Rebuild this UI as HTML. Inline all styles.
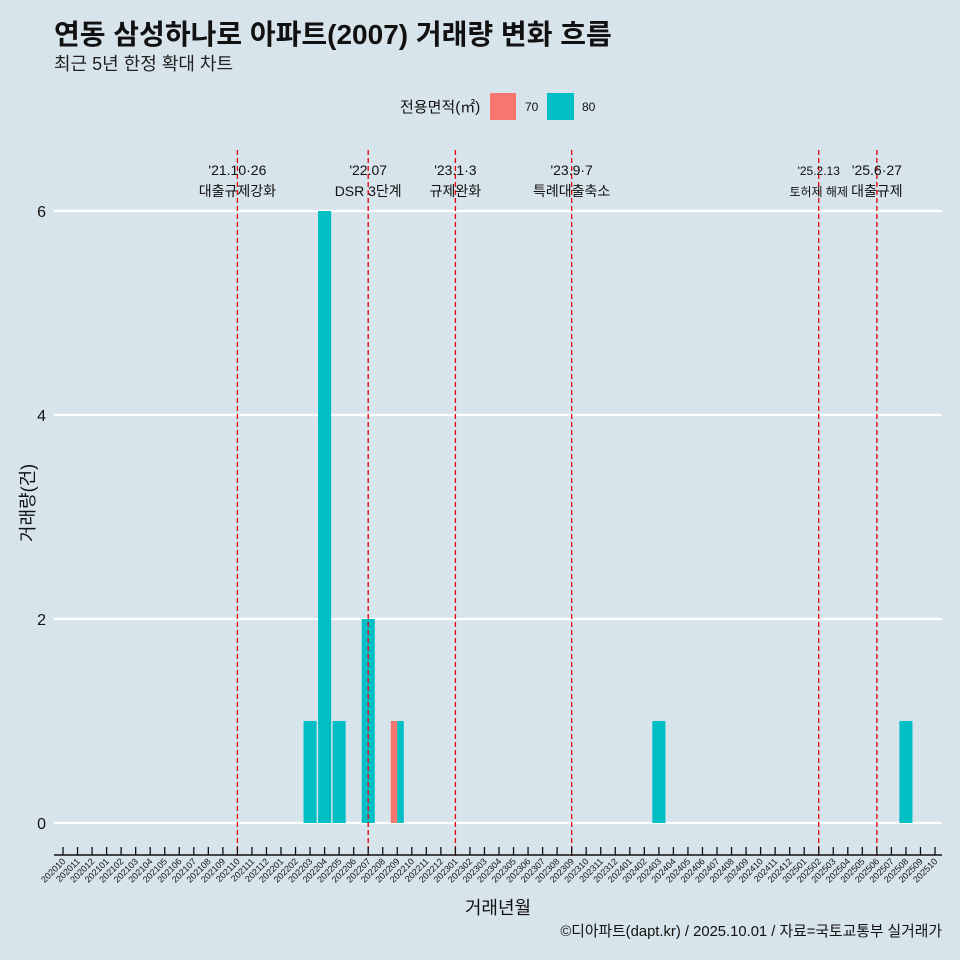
<!DOCTYPE html>
<html><head><meta charset="utf-8"><style>
body{margin:0;background:#d7e4eb;}
svg{display:block;font-family:"Liberation Sans","Noto Sans CJK KR",sans-serif;}
</style></head><body>
<svg id="c" width="960" height="960">
<rect width="960" height="960" fill="#d7e4eb"/>
<text x="54" y="44" font-size="28" font-weight="bold" fill="#111">연동 삼성하나로 아파트(2007) 거래량 변화 흐름</text>
<text x="54" y="70" font-size="18" fill="#222">최근 5년 한정 확대 차트</text>
<g>
<text x="400" y="112" font-size="15" fill="#111">전용면적(㎡)</text>
<rect x="490" y="93" width="26" height="27" fill="#f8766d"/>
<text x="525" y="111" font-size="12" fill="#111">70</text>
<rect x="547" y="93" width="27" height="27" fill="#00bfc4"/>
<text x="582" y="111" font-size="12" fill="#111">80</text>
</g>
<g id="grid"></g><g id="bars"></g><g id="events"></g><g id="axes"></g>
<text x="498" y="914" font-size="18" text-anchor="middle" fill="#111">거래년월</text>
<text transform="translate(34,503) rotate(-90)" font-size="18" text-anchor="middle" fill="#111">거래량(건)</text>
<text x="942" y="936" font-size="14.8" text-anchor="end" fill="#111">©디아파트(dapt.kr) / 2025.10.01 / 자료=국토교통부 실거래가</text>
</svg>
<script>
const months=[];for(let y=2020;y<=2025;y++)for(let m=1;m<=12;m++){const k=y*100+m;if(k>=202010&&k<=202510)months.push(String(k));}
const seriesNames=["70","80"];
const barMonths=["202203","202204","202205","202207","202209","202209","202403","202508"];
const barSeries=["80","80","80","80","70","80","80","80"];
const barValues=[1,6,1,2,1,1,1,1];
const yTicks=[0,2,4,6];
const eventMonths=["202110","202207","202301","202309","202502","202506"];
const eventDates=["'21.10·26","'22.07","'23.1·3","'23.9·7","'25.2.13","'25.6·27"];
const eventLabels=["대출규제강화","DSR 3단계","규제완화","특례대출축소","토허제 해제","대출규제"];
const colors={"70":"#f8766d","80":"#00bfc4"};
const NS="http://www.w3.org/2000/svg";
const x0=63,step=(935-63)/60,y0=823,yk=102;
const X=m=>x0+months.indexOf(m)*step;
const Y=v=>y0-v*yk;
function el(t,a,p){const e=document.createElementNS(NS,t);for(const k in a)e.setAttribute(k,a[k]);document.getElementById(p).appendChild(e);return e;}
yTicks.forEach(v=>{
 const l=el("line",{x1:54,x2:942,y1:Y(v),y2:Y(v),stroke:"#fff","stroke-width":2.2},"grid");
 
 
 const t=el("text",{x:46,y:Y(v)+6,"font-size":16,"text-anchor":"end",fill:"#111"},"grid");t.textContent=v;
 
 
});
const bw=step*0.9;
barMonths.forEach((m,i)=>{
 const n=barMonths.filter(q=>q===m).length;
 const idx=barMonths.slice(0,i).filter(q=>q===m).length;
 const w=bw/n;const left=X(m)-bw/2+idx*w;
 const r=el("rect",{x:left,y:Y(barValues[i]),width:w,height:barValues[i]*yk,fill:colors[barSeries[i]]},"bars");
 
 
});
eventMonths.forEach((m,i)=>{
 const x=X(m);
 const l=el("line",{x1:x,x2:x,y1:150,y2:856,stroke:"#e8000b","stroke-width":1.3,"stroke-dasharray":"5,3"},"events");
 
 
 const fs=i==4?12:14;
 const a=el("text",{x:x,y:175,"font-size":fs,"text-anchor":"middle",fill:"#111"},"events");a.textContent=eventDates[i];
 
 
 const b=el("text",{x:x,y:196,"font-size":fs,"text-anchor":"middle",fill:"#111"},"events");b.textContent=eventLabels[i];
 
 
});
const ax=el("line",{x1:54,x2:942,y1:855,y2:855,stroke:"#111","stroke-width":1.5},"axes");


months.forEach(m=>{
 const x=X(m);
 const t=el("line",{x1:x,x2:x,y1:847,y2:855,stroke:"#111","stroke-width":1.3},"axes");
 
 
 const lb=el("text",{x:x+3,y:862,"font-size":9,"text-anchor":"end",fill:"#111",transform:`rotate(-45 ${x+3} 862)`},"axes");lb.textContent=m;
 
 
});
</script>
</body></html>
